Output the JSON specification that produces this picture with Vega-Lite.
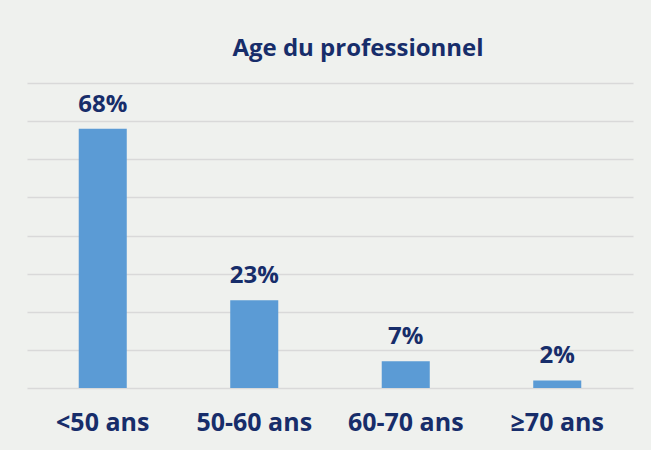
{
  "$schema": "https://vega.github.io/schema/vega-lite/v6.json",
  "width": 606,
  "height": 305,
  "autosize": {"type": "none"},
  "padding": {"left": 27, "top": 83, "right": 18, "bottom": 62},
  "background": "#eff1ee",
  "title": {
    "text": "Age du professionnel",
    "anchor": "middle",
    "dx": 28,
    "offset": 22,
    "font": "Open Sans",
    "fontSize": 24,
    "fontWeight": "bold",
    "color": "#172d6a"
  },
  "data": {
    "values": [
      {"age": "<50 ans", "pct": 68, "label": "68%"},
      {"age": "50-60 ans", "pct": 23, "label": "23%"},
      {"age": "60-70 ans", "pct": 7, "label": "7%"},
      {"age": "≥70 ans", "pct": 2, "label": "2%"}
    ]
  },
  "encoding": {
    "x": {
      "field": "age",
      "type": "nominal",
      "sort": null,
      "scale": {"paddingInner": 0.683, "paddingOuter": 0.3415},
      "axis": {
        "title": null,
        "labelAngle": 0,
        "domain": false,
        "ticks": false,
        "labelPadding": 22,
        "labelFont": "Open Sans",
        "labelFontSize": 25,
        "labelFontWeight": "bold",
        "labelColor": "#172d6a"
      }
    },
    "y": {
      "field": "pct",
      "type": "quantitative",
      "scale": {"domain": [0, 80], "nice": false},
      "axis": {
        "title": null,
        "labels": false,
        "ticks": false,
        "domain": false,
        "tickCount": 8,
        "gridColor": "#d9d9d9",
        "gridWidth": 1.5
      }
    }
  },
  "layer": [
    {"mark": {"type": "bar", "color": "#5b9bd5"}},
    {
      "mark": {
        "type": "text",
        "baseline": "middle",
        "dy": -24,
        "font": "Open Sans",
        "fontSize": 24,
        "fontWeight": "bold",
        "color": "#172d6a"
      },
      "encoding": {"text": {"field": "label"}}
    }
  ],
  "config": {"view": {"stroke": null}}
}
